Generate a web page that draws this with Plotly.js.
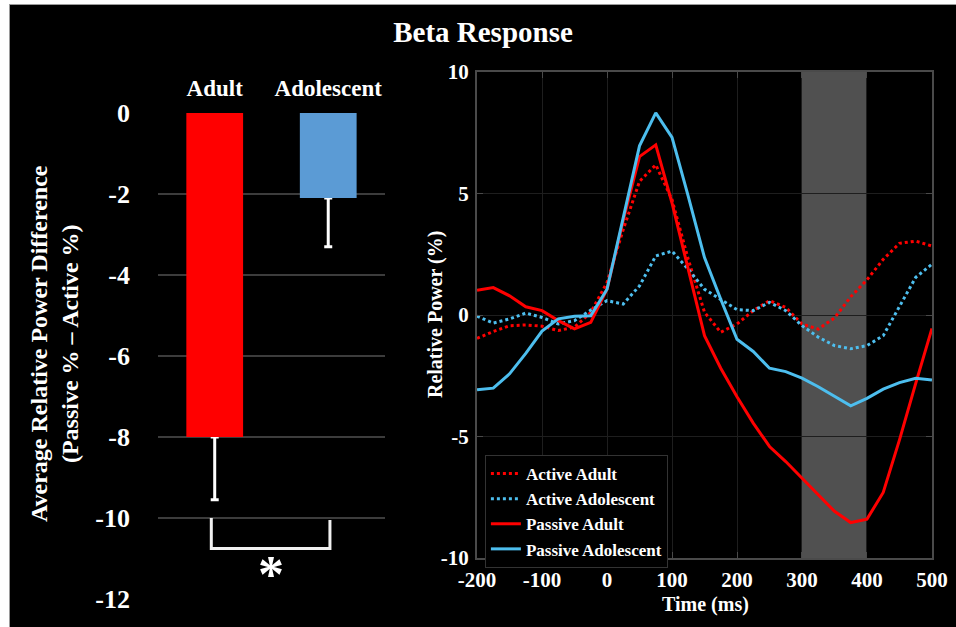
<!DOCTYPE html>
<html>
<head>
<meta charset="utf-8">
<script src="https://cdn.plot.ly/plotly-3.0.1.min.js"></script>
<style>
  html, body { margin: 0; padding: 0; background: #ffffff; width: 956px; height: 627px; overflow: hidden; }
  #wrap { position: absolute; left: 9px; top: 4px; border-left: 1px solid #9a9a9a; border-top: 1px solid #9a9a9a; }
  #chart { width: 946px; height: 622px; }
</style>
</head>
<body>
<div id="wrap"><div id="chart"></div></div>
<script>
// ---------- Data ----------
const groups = ['Adult', 'Adolescent'];
const diffValues = [-8.0, -2.1];
const diffErrors = [1.55, 1.2];
const barColors = ['#ff0000', '#5b9bd5'];
const leftTickVals = [0, -2, -4, -6, -8, -10, -12];
const leftTickText = ['0', '-2', '-4', '-6', '-8', '-10', '-12'];

const timeMs = [-200, -175, -150, -125, -100, -75, -50, -25, 0, 25, 50, 75, 100, 125, 150,
                175, 200, 225, 250, 275, 300, 325, 350, 375, 400, 425, 450, 475, 500];
const activeAdult = [-0.96, -0.68, -0.44, -0.41, -0.46, -0.64, -0.50, 0.11, 1.34, 3.52, 5.50, 6.18, 4.75, 2.29, 0.11,
                     -0.71, -0.37, 0.18, 0.59, 0.31, -0.37, -0.58, -0.12, 0.75, 1.45, 2.29, 2.95, 3.04, 2.84];
const activeAdolescent = [-0.05, -0.33, -0.16, 0.08, -0.10, -0.37, -0.23, 0.20, 0.59, 0.45, 1.20, 2.43, 2.63, 1.88, 1.06,
                          0.65, 0.22, 0.18, 0.52, 0.18, -0.44, -0.91, -1.26, -1.39, -1.26, -0.85, 0.38, 1.55, 2.09];
const passiveAdult = [1.02, 1.13, 0.79, 0.34, 0.18, -0.23, -0.57, -0.30, 1.06, 3.9, 6.52, 7.0, 4.61, 1.9, -0.85,
                      -2.19, -3.36, -4.45, -5.41, -6.03, -6.71, -7.40, -8.08, -8.54, -8.40, -7.30, -5.14, -2.81, -0.55];
const passiveAdolescent = [-3.08, -3.01, -2.42, -1.58, -0.66, -0.16, -0.05, -0.03, 1.06, 4.0, 6.96, 8.32, 7.31, 4.88, 2.36,
                           0.65, -1.0, -1.5, -2.19, -2.33, -2.60, -2.95, -3.33, -3.74, -3.43, -3.05, -2.78, -2.60, -2.67];
const shadeWindow = [300, 400];
const rightXTicks = [-200, -100, 0, 100, 200, 300, 400, 500];
const rightXText = ['-200', '-100', '0', '100', '200', '300', '400', '500'];
const rightYTicks = [-10, -5, 0, 5, 10];
const rightYText = ['-10', '-5', '0', '5', '10'];
const sigLevel = -10;       // bracket start
const sigBottom = -10.75;   // bracket bottom

// ---------- Style ----------
const SERIF = '"Liberation Serif", "Times New Roman", serif';
const RED = '#ff0000';
const BLUE = '#4dbeee';
const font = (size) => ({ family: SERIF, size: size, color: '#ffffff', weight: 'bold' });

const traces = [
  // error-bar carrier (drawn first so the visible bars hide the zero-length top cap)
  {
    type: 'bar', x: groups, y: diffValues, xaxis: 'x', yaxis: 'y',
    marker: { color: 'rgba(0,0,0,0)', line: { width: 0 } },
    width: 0.5, showlegend: false, hoverinfo: 'skip',
    error_y: { type: 'data', symmetric: false, array: [0, 0], arrayminus: diffErrors,
               color: '#ffffff', thickness: 3, width: 4 }
  },
  {
    type: 'bar', x: groups, y: diffValues, xaxis: 'x', yaxis: 'y',
    marker: { color: barColors, line: { width: 0 } },
    width: 0.5, showlegend: false, hoverinfo: 'x+y'
  },
  { type: 'scatter', mode: 'lines', name: 'Active Adult', x: timeMs, y: activeAdult, xaxis: 'x2', yaxis: 'y2',
    line: { color: RED, width: 3, dash: 'dot' } },
  { type: 'scatter', mode: 'lines', name: 'Active Adolescent', x: timeMs, y: activeAdolescent, xaxis: 'x2', yaxis: 'y2',
    line: { color: BLUE, width: 3, dash: 'dot' } },
  { type: 'scatter', mode: 'lines', name: 'Passive Adult', x: timeMs, y: passiveAdult, xaxis: 'x2', yaxis: 'y2',
    line: { color: RED, width: 3 } },
  { type: 'scatter', mode: 'lines', name: 'Passive Adolescent', x: timeMs, y: passiveAdolescent, xaxis: 'x2', yaxis: 'y2',
    line: { color: BLUE, width: 3 } }
];

const layout = {
  width: 946, height: 622,
  paper_bgcolor: '#000000', plot_bgcolor: '#000000',
  margin: { l: 0, r: 0, t: 0, b: 0 },
  barmode: 'overlay',
  showlegend: true,
  title: { text: 'Beta Response', font: font(29), x: 0.5, xref: 'paper', xanchor: 'center',
           y: 0.957, yref: 'container', yanchor: 'middle' },
  xaxis: {
    domain: [0.1564, 0.3964], anchor: 'y', side: 'top', type: 'category',
    range: [-0.5, 1.5], showgrid: false, showline: false, zeroline: false, ticks: '',
    tickfont: font(23), ticklabelstandoff: 11, fixedrange: true
  },
  yaxis: {
    domain: [0.0450, 0.8264], anchor: 'x', range: [-12, 0],
    tickvals: leftTickVals, ticktext: leftTickText, tickfont: font(26),
    showgrid: true, gridcolor: '#3c3c3c', gridwidth: 2, zeroline: false, showline: false,
    ticks: '', ticklabelstandoff: 27
  },
  xaxis2: {
    domain: [0.4937, 0.9746], anchor: 'y2', range: [-200, 500],
    tickvals: rightXTicks, ticktext: rightXText, tickfont: font(21),
    showgrid: true, gridcolor: '#1e1e1e', gridwidth: 1, zeroline: false,
    showline: true, linecolor: '#4a4a4a', linewidth: 2, mirror: 'ticks',
    ticks: 'inside', ticklen: 6, tickcolor: '#4a4a4a', tickwidth: 1, ticklabelstandoff: 2
  },
  yaxis2: {
    domain: [0.1109, 0.8923], anchor: 'x2', range: [-10, 10],
    tickvals: rightYTicks, ticktext: rightYText, tickfont: font(21),
    showgrid: true, gridcolor: '#1e1e1e', gridwidth: 1, zeroline: false,
    showline: true, linecolor: '#4a4a4a', linewidth: 2, mirror: 'ticks',
    ticks: 'inside', ticklen: 6, tickcolor: '#4a4a4a', tickwidth: 1, ticklabelstandoff: 2
  },
  legend: {
    x: 0.502, y: 0.2765, xanchor: 'left', yanchor: 'top', xref: 'paper', yref: 'paper',
    bgcolor: '#000000', bordercolor: '#333333', borderwidth: 1,
    font: font(17), itemwidth: 30, tracegroupgap: 0
  },
  shapes: [
    { type: 'rect', xref: 'x2', yref: 'y2', x0: shadeWindow[0], x1: shadeWindow[1], y0: -10, y1: 10,
      fillcolor: '#505050', line: { width: 0 }, layer: 'below' },
    { type: 'path', xref: 'x', yref: 'y', layer: 'above',
      path: `M ${0 - 0.03},${sigLevel} V ${sigBottom} H ${1 + 0.015} V ${sigLevel - 0.05}`,
      line: { color: '#f0f0f0', width: 3 } }
  ],
  annotations: [
    { text: '*', x: 0.5, y: -11.40, xref: 'x', yref: 'y', showarrow: false, font: font(52),
      xanchor: 'center', yanchor: 'middle' },
    { text: 'Average Relative Power Difference<br>(Passive % – Active %)', textangle: -90,
      x: 0.0476, y: 0.455, xref: 'paper', yref: 'paper', showarrow: false, font: font(24),
      xanchor: 'center', yanchor: 'middle' },
    { text: 'Relative Power (%)', textangle: -90, x: 0.4493, y: 0.5016, xref: 'paper', yref: 'paper',
      showarrow: false, font: font(20), xanchor: 'center', yanchor: 'middle' },
    { text: 'Time (ms)', x: 0.7347, y: 0.036, xref: 'paper', yref: 'paper', showarrow: false, font: font(20),
      xanchor: 'center', yanchor: 'middle' }
  ]
};

Plotly.newPlot('chart', traces, layout, { displayModeBar: false, staticPlot: true });
</script>
</body>
</html>
